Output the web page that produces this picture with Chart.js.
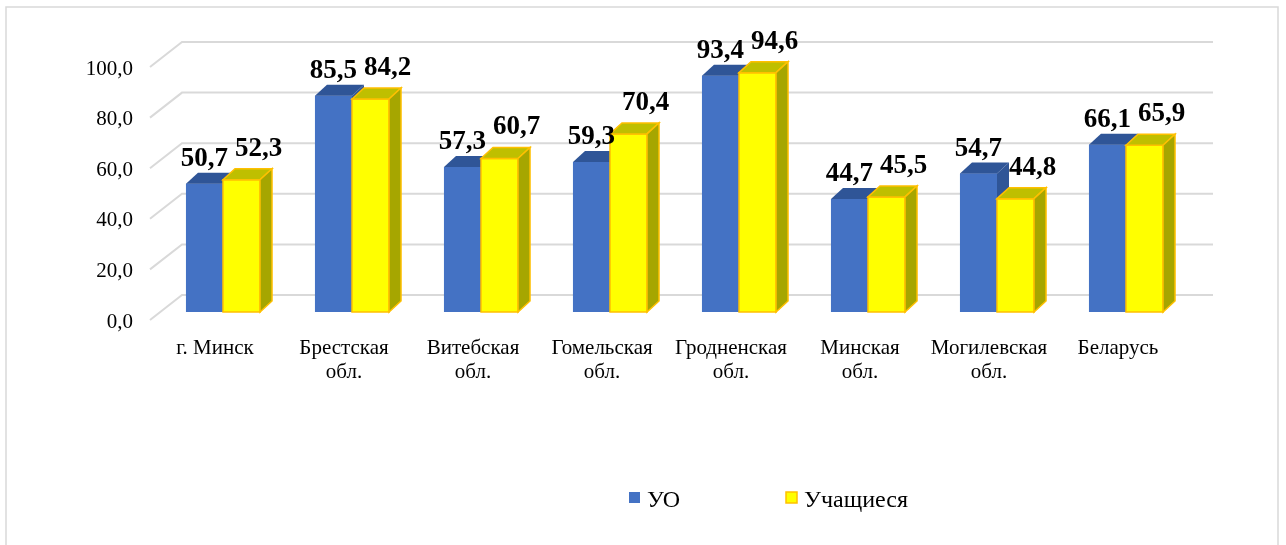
<!DOCTYPE html>
<html>
<head>
<meta charset="utf-8">
<script src="https://cdn.jsdelivr.net/npm/chart.js@4/dist/chart.umd.min.js"></script>
<style>
  html, body { margin: 0; padding: 0; background: #fff; }
  canvas { display: block; }
</style>
</head>
<body>
<canvas id="chart" width="1286" height="545"></canvas>
<script>
const categories = [
    ['г. Минск'], ['Брестская', 'обл.'], ['Витебская', 'обл.'], ['Гомельская', 'обл.'],
    ['Гродненская', 'обл.'], ['Минская', 'обл.'], ['Могилевская', 'обл.'], ['Беларусь']
];
const seriesNames = ['УО', 'Учащиеся'];
const uoValues = [50.7, 85.5, 57.3, 59.3, 93.4, 44.7, 54.7, 66.1];
const studentValues = [52.3, 84.2, 60.7, 70.4, 94.6, 45.5, 44.8, 65.9];
const yTicks = [0, 20, 40, 60, 80, 100];

const SERIF = '"Liberation Serif", "Times New Roman", serif';
const GRID = '#d9d9d9';
const DX = 12, DY = 11;           // bar depth
const BACK_X = 182, BACK_R = 1213; // back wall
const fmt = v => v.toFixed(1).replace('.', ',');

const faces = [
    { front: '#4472C4', top: '#2F5597', side: '#2F5597', line: null },
    { front: '#FFFF00', top: '#BFBF00', side: '#A6A600', line: '#FFC000' }
];

function poly(ctx, pts, fill, line) {
    ctx.beginPath();
    ctx.moveTo(pts[0][0], pts[0][1]);
    for (let i = 1; i < pts.length; i++) ctx.lineTo(pts[i][0], pts[i][1]);
    ctx.closePath();
    ctx.fillStyle = fill;
    ctx.fill();
    if (line) {
        ctx.strokeStyle = line;
        ctx.lineWidth = 1.5;
        ctx.stroke();
    }
}

const bar3d = {
    id: 'bar3d',
    beforeDatasetsDraw(chart) {
        const ctx = chart.ctx;
        const y = chart.scales.y;
        ctx.save();
        // outer frame
        ctx.strokeStyle = GRID;
        ctx.lineWidth = 1.5;
        ctx.strokeRect(6, 7, 1272, 600);
        // back wall grid + diagonals
        ctx.lineWidth = 2;
        yTicks.forEach(v => {
            const py = y.getPixelForValue(v);
            ctx.beginPath();
            ctx.moveTo(150, py + 8);
            ctx.lineTo(BACK_X, py - 17);
            ctx.lineTo(BACK_R, py - 17);
            ctx.stroke();
        });
        // y tick labels on front plane
        ctx.fillStyle = '#000';
        ctx.font = '21px ' + SERIF;
        ctx.textAlign = 'right';
        ctx.textBaseline = 'middle';
        yTicks.forEach(v => {
            ctx.fillText(fmt(v), 133, y.getPixelForValue(v) + 10);
        });
        // category labels
        const x = chart.scales.x;
        ctx.textAlign = 'center';
        ctx.textBaseline = 'alphabetic';
        categories.forEach((lines, i) => {
            const cx = x.getPixelForValue(i) - 8;
            lines.forEach((t, k) => ctx.fillText(t, cx, 354 + k * 24));
        });
        // legend
        ctx.font = '24px ' + SERIF;
        ctx.textAlign = 'left';
        const legendX = [629, 786];
        seriesNames.forEach((name, d) => {
            const lx = legendX[d];
            ctx.fillStyle = faces[d].front;
            ctx.fillRect(lx, 492, 11, 11);
            if (faces[d].line) {
                ctx.strokeStyle = faces[d].line;
                ctx.lineWidth = 1.5;
                ctx.strokeRect(lx, 492, 11, 11);
            }
            ctx.fillStyle = '#000';
            ctx.fillText(name, lx + 18, 507);
        });
        ctx.restore();
    },
    afterDatasetsDraw(chart) {
        const ctx = chart.ctx;
        ctx.save();
        const metas = [chart.getDatasetMeta(0), chart.getDatasetMeta(1)];
        for (let i = 0; i < categories.length; i++) {
            metas.forEach((meta, d) => {
                const el = meta.data[i];
                const f = faces[d];
                const x0 = el.x - el.width / 2, x1 = el.x + el.width / 2;
                const top = el.y, base = el.base;
                poly(ctx, [[x0, base], [x0, top], [x1, top], [x1, base]], f.front, f.line);
                poly(ctx, [[x0, top], [x0 + DX, top - DY], [x1 + DX, top - DY], [x1, top]], f.top, f.line);
                poly(ctx, [[x1, top], [x1 + DX, top - DY], [x1 + DX, base - DY], [x1, base]], f.side, f.line);
            });
        }
        // data labels
        ctx.fillStyle = '#000';
        ctx.font = 'bold 27px ' + SERIF;
        ctx.textAlign = 'center';
        ctx.textBaseline = 'alphabetic';
        metas.forEach((meta, d) => {
            const vals = d === 0 ? uoValues : studentValues;
            meta.data.forEach((el, i) => {
                const lx = d === 0 ? el.x : el.x + 17;
                const ly = d === 0 ? el.y - 18 : el.y - 24;
                ctx.fillText(fmt(vals[i]), lx, ly);
            });
        });
        ctx.restore();
    }
};

new Chart(document.getElementById('chart').getContext('2d'), {
    type: 'bar',
    data: {
        labels: categories,
        datasets: [
            { label: seriesNames[0], data: uoValues, backgroundColor: faces[0].front, borderWidth: 0 },
            { label: seriesNames[1], data: studentValues, backgroundColor: faces[1].front, borderColor: faces[1].line, borderWidth: 1.5 }
        ]
    },
    options: {
        responsive: false,
        animation: false,
        layout: { padding: { left: 158.5, right: 95.5, top: 59, bottom: 233 } },
        datasets: { bar: { barPercentage: 1, categoryPercentage: 0.574 } },
        plugins: { legend: { display: false }, tooltip: { enabled: false } },
        scales: {
            x: { display: false },
            y: { display: false, min: 0, max: 100 }
        }
    },
    plugins: [bar3d]
});
</script>
</body>
</html>
